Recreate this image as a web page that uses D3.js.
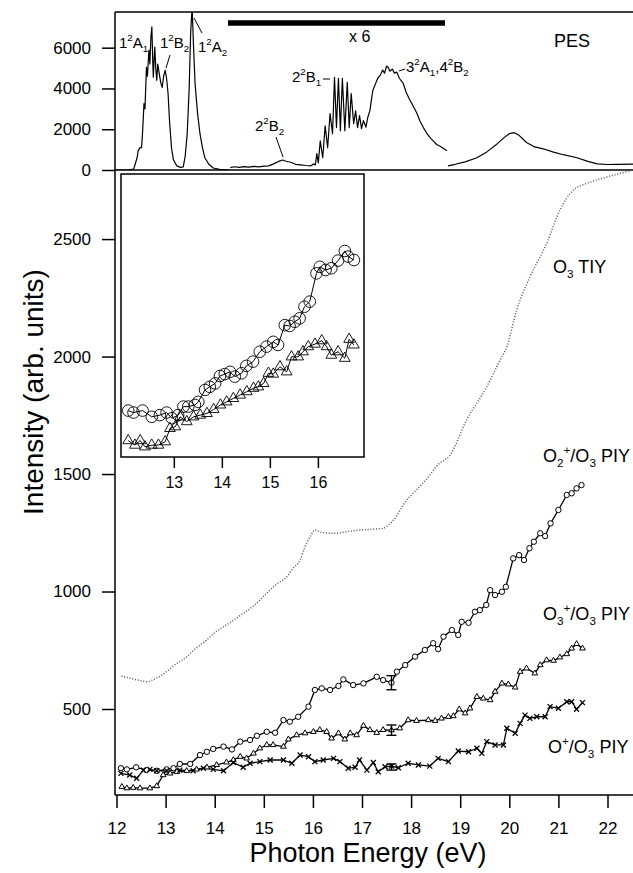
<!DOCTYPE html>
<html><head><meta charset="utf-8">
<script src="https://cdn.jsdelivr.net/npm/d3@7"></script>
<style>
body{margin:0;background:#fff}
text{font-family:"Liberation Sans",Arial,Helvetica,sans-serif;fill:#000}
</style>
</head><body>
<svg id="c" width="633" height="873"></svg>
<script>
// ---------- DATA ----------
const xTicks = [12,13,14,15,16,17,18,19,20,21,22];
const yTicks = [500,1000,1500,2000,2500];
const pesTicks = [0,2000,4000,6000];
const insetTicks = [13,14,15,16];

// PES spectrum, low-energy part (unscaled)
const pesLow = [[11.97,0],[12.2,0],[12.35,50],[12.42,600],[12.44,940],[12.48,1100],[12.51,1090],[12.53,1800],[12.56,3260],[12.58,3000],[12.61,5040],[12.63,4600],[12.66,5880],[12.68,5200],[12.70,6500],[12.72,7020],[12.74,5200],[12.75,4550],[12.77,5600],[12.78,6030],[12.80,5000],[12.82,4400],[12.84,5200],[12.87,4740],[12.90,4300],[12.93,4050],[12.96,4600],[12.99,4890],[13.02,4500],[13.05,3750],[13.08,2400],[13.12,1090],[13.16,500],[13.23,200],[13.30,130],[13.36,150],[13.40,700],[13.44,1780],[13.48,4000],[13.51,6700],[13.54,8000],[13.57,6000],[13.60,4250],[13.65,2800],[13.70,1780],[13.75,1100],[13.80,600],[13.88,280],[13.97,100],[14.10,30],[14.31,0]];
// PES spectrum, x6 part
const pesX6 = [[14.32,120],[14.4,160],[14.5,130],[14.6,170],[14.7,140],[14.8,180],[14.9,150],[15.0,190],[15.1,200],[15.2,300],[15.3,420],[15.39,490],[15.45,430],[15.55,380],[15.65,280],[15.75,250],[15.85,220],[15.95,200],[16.02,300],[16.05,250],[16.08,800],[16.11,350],[16.15,1430],[16.2,600],[16.25,2170],[16.3,1090],[16.35,2770],[16.4,1780],[16.44,4550],[16.48,2080],[16.52,4500],[16.56,1930],[16.6,4500],[16.65,1930],[16.7,4300],[16.74,2080],[16.78,3750],[16.83,2270],[16.87,2900],[16.91,2080],[16.95,2670],[16.99,2030],[17.03,2420],[17.08,2100],[17.12,2600],[17.16,2900],[17.19,3400],[17.22,3900],[17.27,4200],[17.32,4500],[17.37,4640],[17.42,4900],[17.46,4750],[17.5,5100],[17.53,5040],[17.57,4850],[17.62,4950],[17.66,4750],[17.71,4800],[17.76,4500],[17.84,4250],[17.9,3800],[17.98,3410],[18.05,3100],[18.12,2770],[18.18,2400],[18.25,2080],[18.32,1800],[18.4,1550],[18.45,1430],[18.52,1250],[18.6,1150],[18.66,1050],[18.73,940]];
// PES spectrum, high-energy part (unscaled)
const pesHigh = [[18.75,200],[18.9,280],[19.1,400],[19.34,600],[19.55,900],[19.75,1280],[19.9,1600],[20.0,1780],[20.1,1830],[20.2,1700],[20.35,1350],[20.5,1150],[20.69,1040],[20.9,880],[21.1,750],[21.38,600],[21.6,420],[21.79,300],[22.0,270],[22.2,280],[22.52,290]];

// O3 total ion yield
const tiy = [[12.1,640],[12.3,630],[12.5,620],[12.61,616],[12.8,630],[13.02,659],[13.2,690],[13.43,722],[13.6,755],[13.84,794],[14.0,825],[14.18,850],[14.4,880],[14.58,907],[14.8,940],[15.06,993],[15.25,1030],[15.47,1063],[15.6,1100],[15.74,1134],[15.84,1191],[15.95,1235],[16.04,1262],[16.2,1250],[16.48,1248],[16.7,1255],[16.96,1262],[17.2,1265],[17.43,1269],[17.55,1285],[17.64,1304],[17.91,1389],[18.1,1430],[18.32,1480],[18.55,1540],[18.79,1580],[19.13,1730],[19.54,1871],[19.8,1980],[19.95,2042],[20.15,2198],[20.42,2339],[20.76,2481],[21.03,2623],[21.3,2708],[21.55,2735],[21.78,2751],[22.0,2765],[22.25,2779],[22.5,2793]];

// Partial ion yields
const o2PIY = [[12.09,248],[12.21,243],[12.4,252],[12.61,240],[12.82,237],[13.02,243],[13.16,248],[13.29,266],[13.5,266],[13.7,304],[13.84,318],[13.97,330],[14.18,340],[14.35,328],[14.52,361],[14.72,368],[14.86,386],[15.06,403],[15.23,399],[15.4,453],[15.53,446],[15.7,467],[15.91,510],[16.04,581],[16.18,588],[16.35,581],[16.52,598],[16.62,626],[16.82,602],[17.03,609],[17.3,637],[17.43,623],[17.6,612],[17.71,659],[17.88,687],[18.08,723],[18.28,751],[18.45,780],[18.55,755],[18.66,808],[18.83,836],[18.96,815],[19.03,871],[19.17,867],[19.3,914],[19.4,921],[19.53,943],[19.61,1006],[19.71,985],[19.85,999],[19.93,1020],[20.08,1141],[20.2,1155],[20.3,1134],[20.41,1184],[20.5,1212],[20.63,1248],[20.73,1236],[20.84,1290],[21.0,1347],[21.17,1411],[21.27,1418],[21.37,1439],[21.47,1453]];
const o3PIY = [[12.11,169],[12.21,163],[12.34,165],[12.48,163],[12.68,163],[12.82,172],[12.95,219],[13.09,226],[13.23,233],[13.43,237],[13.63,243],[13.84,252],[14.04,262],[14.24,273],[14.38,283],[14.52,297],[14.65,290],[14.79,311],[14.92,333],[15.06,347],[15.19,347],[15.4,340],[15.5,371],[15.67,389],[15.84,397],[16.01,403],[16.14,411],[16.28,403],[16.38,375],[16.52,397],[16.65,371],[16.76,397],[16.89,389],[17.03,429],[17.16,411],[17.3,399],[17.43,411],[17.6,410],[17.77,418],[17.94,453],[18.11,450],[18.35,453],[18.49,450],[18.62,460],[18.76,467],[18.86,470],[18.98,499],[19.1,482],[19.2,503],[19.34,552],[19.47,545],[19.61,538],[19.71,574],[19.85,609],[19.98,605],[20.12,592],[20.22,659],[20.35,673],[20.52,652],[20.63,687],[20.76,708],[20.9,706],[21.03,720],[21.17,734],[21.27,758],[21.37,777],[21.49,758]];
const o1PIY = [[12.09,226],[12.27,219],[12.41,205],[12.55,240],[12.68,243],[12.82,237],[13.02,237],[13.29,240],[13.56,237],[13.77,248],[13.97,243],[14.18,237],[14.38,272],[14.58,252],[14.72,269],[14.92,276],[15.13,283],[15.4,283],[15.57,269],[15.74,304],[15.91,297],[16.04,276],[16.21,283],[16.42,290],[16.55,276],[16.72,248],[16.86,252],[16.95,283],[17.1,240],[17.23,272],[17.33,233],[17.47,254],[17.6,257],[17.74,250],[17.94,269],[18.15,262],[18.38,257],[18.55,290],[18.76,276],[18.96,321],[19.17,318],[19.34,333],[19.44,311],[19.54,361],[19.71,347],[19.88,347],[19.95,418],[20.12,397],[20.22,439],[20.32,474],[20.42,460],[20.56,467],[20.73,467],[20.83,510],[21.0,503],[21.17,531],[21.27,531],[21.37,499],[21.49,527]];
// error bars [energy, centre, half-width]
const errBars = [[17.6,612,30],[17.6,410,22],[17.6,253,13]];

// Inset (arbitrary units)
const insetCircles = [[12.05,16.4],[12.16,15.7],[12.35,16.4],[12.54,14.2],[12.71,14.8],[12.85,15.7],[12.96,13.7],[13.09,14.8],[13.2,17.8],[13.3,17.8],[13.44,18.4],[13.51,19.5],[13.65,23.7],[13.75,24.8],[13.86,26],[13.96,28.6],[14.06,29.3],[14.17,30.1],[14.27,28.4],[14.41,29.6],[14.51,32.2],[14.65,33.7],[14.79,37.2],[14.93,39],[15.07,40.7],[15.17,39.6],[15.31,46.6],[15.41,46.3],[15.52,47.8],[15.62,49],[15.72,53.1],[15.83,54.9],[15.97,64.9],[16.04,67.2],[16.16,66.1],[16.28,66.7],[16.42,69.4],[16.56,72.8],[16.63,70.8],[16.75,69.6]];
const insetTriangles = [[12.05,5.8],[12.19,4.2],[12.3,5.8],[12.4,3.6],[12.54,4.2],[12.68,4.2],[12.82,5.4],[12.92,10.1],[13.03,10.7],[13.13,14.2],[13.27,12.5],[13.41,14.2],[13.55,14.8],[13.69,15.4],[13.83,16.8],[13.97,18.4],[14.1,19.5],[14.24,20.7],[14.38,21.9],[14.52,23.1],[14.66,24.3],[14.76,24.8],[14.87,26],[14.97,29.6],[15.07,29.3],[15.21,31.9],[15.35,30.1],[15.45,35.4],[15.59,35.4],[15.69,37.2],[15.8,39],[15.94,39.9],[16.08,41.1],[16.18,39],[16.28,36],[16.42,37.2],[16.56,34.9],[16.65,41.6],[16.75,39.6]];

// ---------- DRAWING ----------
const svg = d3.select('#c');
const L = 115, R = 633, T = 12, MID = 170, B = 795;
const x = d3.scaleLinear().domain([12,22]).range([116.5,607.5]);
const y = d3.scaleLinear().domain([134,2794]).range([B,MID]);
const yP = d3.scaleLinear().domain([0,7750]).range([MID,T]);
const xI = d3.scaleLinear().domain([11.9,16.96]).range([121,364]);
const yI = d3.scaleLinear().domain([0,100]).range([457,174]);

const defs = svg.append('defs');
defs.append('clipPath').attr('id','cm').append('rect').attr('x',L).attr('y',MID).attr('width',R-L).attr('height',B-MID);
defs.append('clipPath').attr('id','cp').append('rect').attr('x',L).attr('y',T).attr('width',R-L).attr('height',MID-T);

function styleAxis(g, fs){
  g.select('.domain').remove();
  g.selectAll('text').attr('font-size',fs).attr('font-family','"Liberation Sans",Arial,Helvetica,sans-serif').attr('fill','#000');
  g.selectAll('line').attr('stroke','#000').attr('stroke-width',1.5);
}

// PES panel
const gp = svg.append('g').attr('clip-path','url(#cp)');
const lineP = d3.line().x(d=>x(d[0])).y(d=>yP(d[1]));
[pesLow, pesX6, pesHigh].forEach(arr=>{
  gp.append('path').datum(arr).attr('d',lineP).attr('fill','none').attr('stroke','#000').attr('stroke-width',1.2).attr('stroke-linejoin','round');
});
// x6 bar
svg.append('line').attr('x1',x(14.27)).attr('x2',x(18.69)).attr('y1',23).attr('y2',23).attr('stroke','#000').attr('stroke-width',5.5);

// frame lines
svg.append('line').attr('x1',L).attr('x2',R).attr('y1',T).attr('y2',T).attr('stroke','#000').attr('stroke-width',1.5);
svg.append('line').attr('x1',L).attr('x2',R).attr('y1',MID).attr('y2',MID).attr('stroke','#000').attr('stroke-width',1.5);
svg.append('line').attr('x1',L).attr('x2',R).attr('y1',B).attr('y2',B).attr('stroke','#000').attr('stroke-width',1.5);
svg.append('line').attr('x1',L).attr('x2',L).attr('y1',T).attr('y2',B).attr('stroke','#000').attr('stroke-width',1.5);

// axes
const ax1 = svg.append('g').attr('transform',`translate(${L},0)`).call(d3.axisLeft(yP).tickValues(pesTicks).tickSize(13).tickPadding(11).tickFormat(d3.format('d')));
styleAxis(ax1,17);
const ax2 = svg.append('g').attr('transform',`translate(${L},0)`).call(d3.axisLeft(y).tickValues(yTicks).tickSize(13).tickPadding(11).tickFormat(d3.format('d')));
styleAxis(ax2,17);
const ax3 = svg.append('g').attr('transform',`translate(0,${B})`).call(d3.axisBottom(x).tickValues(xTicks).tickSize(13).tickPadding(14).tickFormat(d3.format('d')));
styleAxis(ax3,17);

// main series
const gm = svg.append('g').attr('clip-path','url(#cm)');
const lineM = d3.line().x(d=>x(d[0])).y(d=>y(d[1]));
gm.append('path').datum(tiy).attr('d',lineM.curve(d3.curveMonotoneX)).attr('fill','none')
  .attr('stroke','#555').attr('stroke-width',1.5).attr('stroke-dasharray','1 1.8');
const lineS = d3.line().x(d=>x(d[0])).y(d=>y(d[1]));
[o2PIY,o3PIY,o1PIY].forEach(arr=>{
  gm.append('path').datum(arr).attr('d',lineS).attr('fill','none').attr('stroke','#000').attr('stroke-width',1.3).attr('stroke-linejoin','round');
});
gm.selectAll('.c2').data(o2PIY).enter().append('circle').attr('cx',d=>x(d[0])).attr('cy',d=>y(d[1])).attr('r',2.7)
  .attr('fill','#fff').attr('stroke','#000').attr('stroke-width',1);
const tri = d3.symbol().type(d3.symbolTriangle).size(14);
gm.selectAll('.t3').data(o3PIY).enter().append('path').attr('d',tri).attr('transform',d=>`translate(${x(d[0])},${y(d[1])})`)
  .attr('fill','#fff').attr('stroke','#000').attr('stroke-width',1);
const xShape = d3.symbolTimes || d3.symbolX;
const xs = d3.symbol().type(xShape).size(18);
gm.selectAll('.x1').data(o1PIY).enter().append('path').attr('d',xs).attr('transform',d=>`translate(${x(d[0])},${y(d[1])})`)
  .attr('fill','none').attr('stroke','#000').attr('stroke-width',1.3);
// error bars
errBars.forEach(([e,c,h])=>{
  const g = gm.append('g').attr('stroke','#000').attr('stroke-width',1.4);
  g.append('line').attr('x1',x(e)).attr('x2',x(e)).attr('y1',y(c-h)).attr('y2',y(c+h));
  g.append('line').attr('x1',x(e)-5).attr('x2',x(e)+5).attr('y1',y(c-h)).attr('y2',y(c-h));
  g.append('line').attr('x1',x(e)-5).attr('x2',x(e)+5).attr('y1',y(c+h)).attr('y2',y(c+h));
});

// inset
svg.append('rect').attr('x',121).attr('y',174).attr('width',243).attr('height',283).attr('fill','#fff').attr('stroke','#000').attr('stroke-width',1.5);
const gi = svg.append('g');
const lineI = d3.line().x(d=>xI(d[0])).y(d=>yI(d[1]));
[insetCircles, insetTriangles].forEach(arr=>{
  gi.append('path').datum(arr).attr('d',lineI).attr('fill','none').attr('stroke','#000').attr('stroke-width',1);
});
gi.selectAll('.ic').data(insetCircles).enter().append('circle').attr('cx',d=>xI(d[0])).attr('cy',d=>yI(d[1])).attr('r',5.8)
  .attr('fill','none').attr('stroke','#000').attr('stroke-width',0.9);
const triI = d3.symbol().type(d3.symbolTriangle).size(50);
gi.selectAll('.it').data(insetTriangles).enter().append('path').attr('d',triI).attr('transform',d=>`translate(${xI(d[0])},${yI(d[1])})`)
  .attr('fill','none').attr('stroke','#000').attr('stroke-width',0.9);
const ax4 = svg.append('g').attr('transform','translate(0,457)').call(d3.axisBottom(xI).tickValues(insetTicks).tickSize(11).tickPadding(9).tickFormat(d3.format('d')));
styleAxis(ax4,16);

// rich text helper
function rich(px, py, parts, fs){
  const t = svg.append('text').attr('x',px).attr('y',py).attr('font-size',fs);
  let off = 0;
  parts.forEach(p=>{
    const [s,k] = Array.isArray(p)?p:[p,''];
    let target = 0, size = fs;
    if(k==='sup'){target = -0.45*fs; size = fs*0.65;}
    if(k==='sub'){target = 0.25*fs; size = fs*0.65;}
    t.append('tspan').attr('dy',target-off).attr('font-size',size).text(s);
    off = target;
  });
  return t;
}
// PES labels
rich(119,48,['1',['2','sup'],'A',['1','sub']],15);
rich(160,48,['1',['2','sup'],'B',['2','sub']],15);
rich(198,52,['1',['2','sup'],'A',['2','sub']],15);
rich(255,131,['2',['2','sup'],'B',['2','sub']],15);
rich(292,82,['2',['2','sup'],'B',['1','sub']],15);
rich(406,72,['3',['2','sup'],'A',['1','sub'],',4',['2','sup'],'B',['2','sub']],15);
const lead = [[170,55,166,68],[194,18,202,33],[276,137,283,157],[323,79,330,79],[399,71,405,69]];
lead.forEach(l=>svg.append('line').attr('x1',l[0]).attr('y1',l[1]).attr('x2',l[2]).attr('y2',l[3]).attr('stroke','#000').attr('stroke-width',1));
svg.append('text').attr('x',349).attr('y',42).attr('font-size',16).text('x 6');
svg.append('text').attr('x',554).attr('y',47).attr('font-size',18).text('PES');

// series labels
rich(553,273,['O',['3','sub'],' TIY'],18);
rich(543,462,['O',['2','sub'],['+','sup'],'/O',['3','sub'],' PIY'],18);
rich(543,620,['O',['3','sub'],['+','sup'],'/O',['3','sub'],' PIY'],18);
rich(548,753,['O',['+','sup'],'/O',['3','sub'],' PIY'],18);

// axis titles
svg.append('text').attr('x',368).attr('y',862).attr('text-anchor','middle').attr('font-size',27).text('Photon Energy (eV)');
svg.append('text').attr('transform','translate(43,392) rotate(-90)').attr('text-anchor','middle').attr('font-size',28).text('Intensity (arb. units)');
</script>
</body></html>
